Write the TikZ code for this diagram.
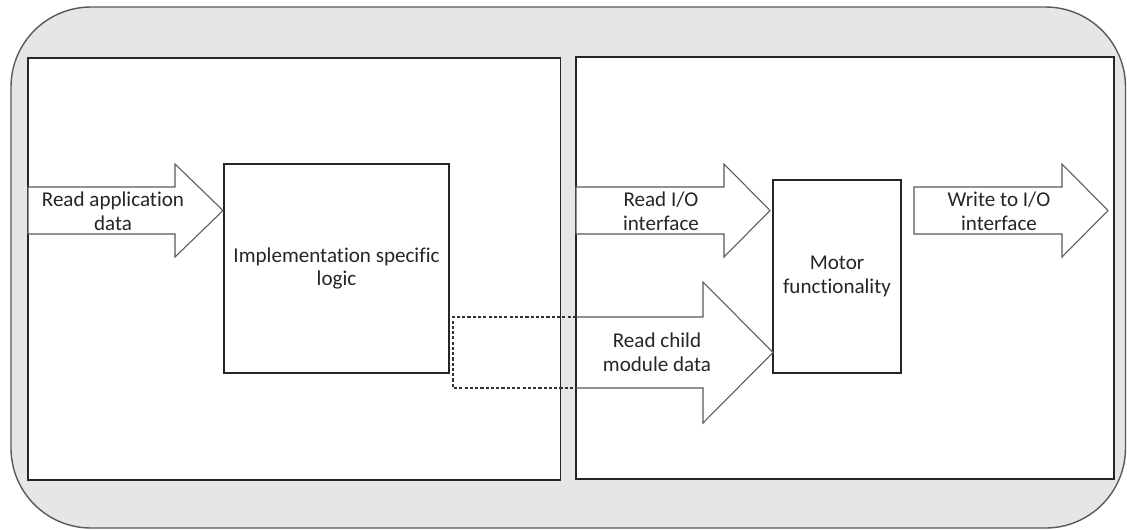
\documentclass[tikz,border=0pt]{standalone}
\usepackage{fontspec}
\setmainfont{Carlito}[Ligatures=NoCommon]
\usetikzlibrary{positioning}

\definecolor{framegray}{HTML}{E6E6E6}
\definecolor{edgegray}{HTML}{595959}
\definecolor{txtgray}{HTML}{262626}

\tikzset{
    blockarrow/.style={draw=edgegray, fill=white, line width=0.6pt, line join=miter},
    panel/.style={draw=black!85, fill=white, line width=0.7pt},
    box/.style={draw=black!85, fill=white, line width=0.7pt, inner sep=0pt,
        align=center, text=txtgray},
    lbl/.style={align=center, inner sep=0pt, text=txtgray},
    dashlink/.style={draw=black!80, line width=0.6pt, dash pattern=on 1.8pt off 1.2pt}
}

\begin{document}
\begin{tikzpicture}[x=0.02cm, y=-0.02cm, font=\fontsize{12}{13.6}\selectfont]
    \useasboundingbox (0,0) rectangle (1127,529);

    % outer frame and the two halves
    \draw[fill=framegray, draw=black!65, line width=0.8pt, rounded corners=1.6cm]
        (11,7) rectangle (1125.5,528);
    \draw[panel] (28,58) rectangle (560.5,480);
    \draw[panel] (576,57) rectangle (1114,479);

    % dashed hand-over from the logic box to the right half
    \coordinate (ctop) at (576,317);
    \coordinate (cbot) at (576,388);
    \draw[dashlink] (ctop) -- (453,317) -- (453,388) -- (cbot);

    % blocks
    \node[box, minimum width=4.5cm, minimum height=4.18cm] (logic) at (336.5,268.5)
        {Implementation specific\\logic};
    \node[box, minimum width=2.56cm, minimum height=3.86cm] (motor) at (837,276.5)
        {Motor\\functionality};

    % block arrows
    \draw[blockarrow] (28,187) -- (175,187) -- (175,164) -- (223,210.5)
        -- (175,257) -- (175,234) -- (28,234) -- cycle;
    \draw[blockarrow] (576,187) -- (724,187) -- (724,164) -- (770,210.5)
        -- (724,257) -- (724,234) -- (576,234) -- cycle;
    \draw[blockarrow] (914,187) -- (1062,187) -- (1062,164) -- (1108,210.5)
        -- (1062,257) -- (1062,234) -- (914,234) -- cycle;
    \draw[blockarrow] (cbot) -- (ctop) -- (703,317) -- (703,282) -- (773,352.5)
        -- (703,423) -- (703,388) -- cycle;
    \draw[black!85, line width=0.7pt] (ctop) -- (cbot);

    \node[lbl] (appdata) at (113,211) {Read application\\data};
    \node[lbl] (readio) at (661,211) {Read I/O\\interface};
    \node[lbl] (writeio) at (999,211) {Write to I/O\\interface};
    \node[lbl] (childdata) at (657,352) {Read child\\module data};
\end{tikzpicture}
\end{document}
